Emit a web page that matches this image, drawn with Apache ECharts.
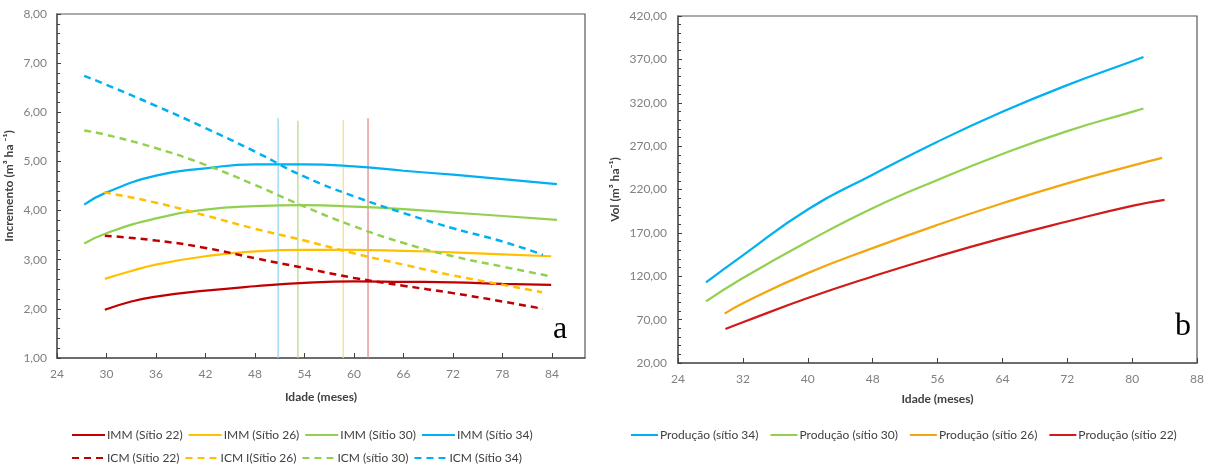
<!DOCTYPE html>
<html>
<head>
<meta charset="utf-8">
<script src="https://cdn.jsdelivr.net/npm/echarts@6/dist/echarts.min.js"></script>
<style>
  html, body { margin: 0; padding: 0; background: #fff; }
  #chart_idade { width: 1210px; height: 470px; }
</style>
</head>
<body>
<div id="chart_idade"></div>
<script>
// a) incremento médio (IMM) e corrente (ICM) por sítio
const ageImmA = [27.3, 30, 36, 42, 48, 54, 60, 66, 72, 78, 84.6];
const imm34 = [4.12, 4.37, 4.71, 4.86, 4.94, 4.94, 4.90, 4.81, 4.73, 4.64, 4.54];
const imm30 = [3.33, 3.54, 3.84, 4.02, 4.09, 4.11, 4.08, 4.03, 3.96, 3.89, 3.81];
const ageImmB = [29.8, 33, 36, 42, 48, 54, 60, 66, 72, 78, 83.9];
const imm26 = [2.61, 2.77, 2.90, 3.07, 3.17, 3.20, 3.20, 3.18, 3.15, 3.11, 3.07];
const imm22 = [1.98, 2.15, 2.25, 2.37, 2.46, 2.53, 2.56, 2.55, 2.54, 2.51, 2.49];

const ageIcm34 = [27.3, 30, 36, 42, 48, 54, 60, 66, 72, 78, 82.9];
const icm34 = [6.74, 6.56, 6.13, 5.68, 5.20, 4.69, 4.29, 3.95, 3.64, 3.37, 3.10];
const ageIcm30 = [27.3, 30, 36, 42, 48, 54, 60, 66, 72, 78, 83.6];
const icm30 = [5.63, 5.54, 5.27, 4.93, 4.52, 4.08, 3.68, 3.34, 3.07, 2.86, 2.67];
const ageIcm26 = [29.7, 36, 42, 48, 54, 60, 66, 72, 78, 82.8];
const icm26 = [4.37, 4.16, 3.90, 3.63, 3.39, 3.13, 2.90, 2.68, 2.49, 2.34];
const ageIcm22 = [29.8, 36, 42, 48, 54, 60, 66, 72, 78, 82.9];
const icm22 = [3.49, 3.39, 3.24, 3.03, 2.83, 2.63, 2.47, 2.32, 2.15, 2.00];

// idade técnica de corte (IMM = ICM): sítio 34, 30, 26, 22
const cutAges = [50.8, 53.2, 58.7, 61.7];
const cutTops = [5.88, 5.83, 5.85, 5.88];

// b) produção por sítio
const ageProdA = [27.45, 32, 40, 48, 56, 64, 72, 80, 81.4];
const prod34 = [112.9, 144, 197, 237, 275.1, 309.6, 340.3, 367.9, 372.8];
const prod30 = [91.0, 117.9, 160, 198.4, 231.0, 260.9, 287.3, 309.5, 313.4];
const ageProd26 = [29.75, 32, 40, 48, 56, 64, 72, 80, 83.7];
const prod26 = [76.9, 89, 123.6, 152.4, 179.2, 204.1, 227.1, 247.5, 256.5];
const ageProd22 = [29.85, 32, 40, 48, 56, 64, 72, 80, 84];
const prod22 = [59.2, 67, 94.9, 119.8, 142.8, 163.9, 183.1, 201.1, 208];

const RED = '#C00000', YEL = '#FFC000', GRN = '#92D050', BLU = '#00B0F0';
const ORG = '#F2A60F', RED2 = '#D11A1A';
const FONT = 'Lato, "Noto Sans", sans-serif';

function pairs (xs, ys) {
  return xs.map((x, i) => [x, ys[i]]);
}

function fmt (v) {
  return v.toFixed(2).replace('.', ',');
}

function curve (name, xs, ys, color, idx, dashed) {
  return {
    name: name,
    type: 'line',
    xAxisIndex: idx,
    yAxisIndex: idx,
    data: pairs(xs, ys),
    smooth: true,
    symbol: 'none',
    lineStyle: { color: color, width: dashed ? 2.5 : 2.2, type: dashed ? [7, 5] : 'solid' },
    itemStyle: { color: color },
    z: 3
  };
}

const cutColors = ['#8FD8F5', '#B5DC8C', '#FFDD85', '#E58A8A'];
const cutSeries = cutAges.map((a, i) => ({
  type: 'line',
  xAxisIndex: 0,
  yAxisIndex: 0,
  data: [[a, 1], [a, cutTops[i]]],
  symbol: 'none',
  silent: true,
  lineStyle: { color: cutColors[i], width: 1.3 },
  z: 2
}));

function xAx (idx, interval, hideMax) {
  return {
    type: 'value',
    gridIndex: idx,
    min: 24,
    max: 88,
    interval: interval,
    name: 'Idade (meses)',
    nameLocation: 'middle',
    nameGap: idx === 0 ? 33 : 30,
    nameTextStyle: { color: '#404040', fontWeight: 'bold', fontSize: 12, fontFamily: FONT },
    axisLine: { onZero: false, lineStyle: { color: '#595959', width: 1.5 } },
    axisTick: { show: true, inside: true, length: 5, lineStyle: { color: '#404040' } },
    axisLabel: { color: '#808080', fontSize: 12, fontFamily: FONT, margin: 10, showMaxLabel: !hideMax },
    splitLine: { show: false }
  };
}

function yAx (idx, min, max, interval, name, gap, margin) {
  return {
    type: 'value',
    gridIndex: idx,
    min: min,
    max: max,
    interval: interval,
    name: name,
    nameLocation: 'middle',
    nameGap: gap,
    nameTextStyle: { color: '#404040', fontWeight: 'bold', fontSize: 12, fontFamily: FONT },
    axisLine: { show: true, lineStyle: { color: '#595959', width: 1.5 } },
    axisTick: { show: true, inside: true, length: 4, lineStyle: { color: '#404040' } },
    minorTick: { show: true, splitNumber: 5, length: 3, lineStyle: { color: '#404040' } },
    axisLabel: { color: '#808080', fontSize: 12, fontFamily: FONT, margin: margin, formatter: fmt },
    splitLine: { show: false }
  };
}

function legendRow (names, left, top, w, gap) {
  return {
    data: names,
    left: left,
    top: top,
    padding: 0,
    orient: 'horizontal',
    itemWidth: w,
    itemHeight: 12,
    itemGap: gap,
    itemStyle: { opacity: 0 },
    textStyle: { color: '#404040', fontSize: 12, fontFamily: FONT, padding: [0, 0, 0, -3] },
    selectedMode: false
  };
}

let myChart = echarts.init(document.getElementById('chart_idade'));

let option = {
  animation: false,
  backgroundColor: '#fff',
  grid: [
    { left: 57, top: 14, width: 528, height: 344, show: true, borderColor: '#595959', borderWidth: 1.2 },
    { left: 678, top: 16, width: 519, height: 347, show: true, borderColor: '#595959', borderWidth: 1.2 }
  ],
  xAxis: [xAx(0, 6, true), xAx(1, 8, false)],
  yAxis: [
    yAx(0, 1, 8, 1, 'Incremento (m³ ha ⁻¹)', 42, 10),
    yAx(1, 20, 420, 50, 'Vol (m³ ha⁻¹)', 57, 11)
  ],
  legend: [
    legendRow(['IMM (Sítio 22)', 'IMM (Sítio 26)', 'IMM (Sítio 30)', 'IMM (Sítio 34)'], 71, 429, 33, 5),
    legendRow(['ICM (Sítio 22)', 'ICM I(Sítio 26)', 'ICM (sítio 30)', 'ICM (Sítio 34)'], 71, 452, 33, 5),
    legendRow(['Produção (sítio 34)', 'Produção (sítio 30)', 'Produção (sítio 26)', 'Produção (sítio 22)'], 630, 429, 27, 11)
  ],
  graphic: [
    { type: 'text', left: 553, top: 314, style: { text: 'a', fontSize: 32, fontFamily: '"Liberation Serif", serif', fill: '#000' } },
    { type: 'text', left: 1175, top: 311, style: { text: 'b', fontSize: 32, fontFamily: '"Liberation Serif", serif', fill: '#000' } }
  ],
  series: [
    ...cutSeries,
    curve('IMM (Sítio 22)', ageImmB, imm22, RED, 0, false),
    curve('IMM (Sítio 26)', ageImmB, imm26, YEL, 0, false),
    curve('IMM (Sítio 30)', ageImmA, imm30, GRN, 0, false),
    curve('IMM (Sítio 34)', ageImmA, imm34, BLU, 0, false),
    curve('ICM (Sítio 22)', ageIcm22, icm22, RED, 0, true),
    curve('ICM I(Sítio 26)', ageIcm26, icm26, YEL, 0, true),
    curve('ICM (sítio 30)', ageIcm30, icm30, GRN, 0, true),
    curve('ICM (Sítio 34)', ageIcm34, icm34, BLU, 0, true),
    curve('Produção (sítio 34)', ageProdA, prod34, BLU, 1, false),
    curve('Produção (sítio 30)', ageProdA, prod30, GRN, 1, false),
    curve('Produção (sítio 26)', ageProd26, prod26, ORG, 1, false),
    curve('Produção (sítio 22)', ageProd22, prod22, RED2, 1, false)
  ]
};

myChart.setOption(option, true);

window.addEventListener('resize', () => {
  myChart.resize();
});
</script>
</body>
</html>
